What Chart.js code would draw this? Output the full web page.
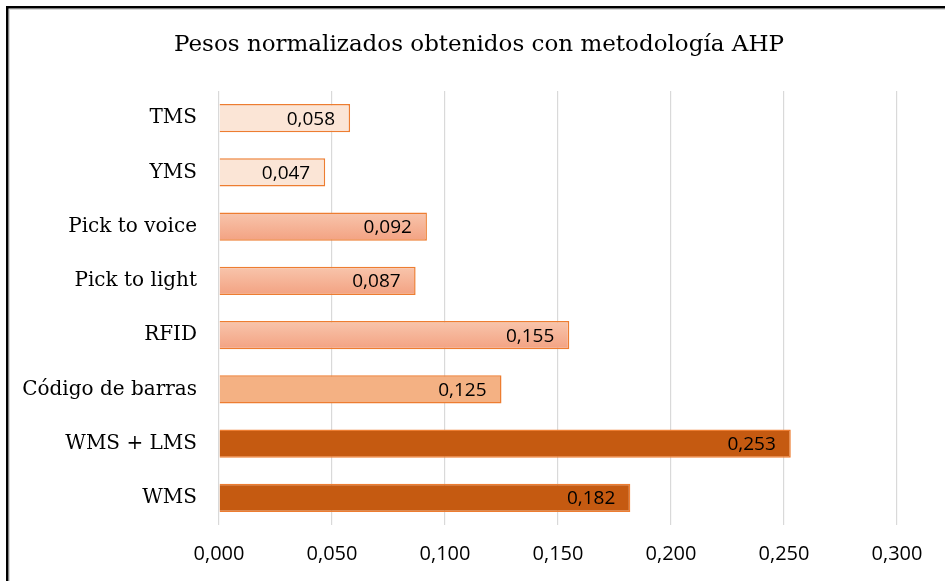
<!DOCTYPE html>
<html>
<head>
<meta charset="utf-8">
<script src="https://cdn.jsdelivr.net/npm/chart.js@4"></script>
<style>
  html, body { margin: 0; padding: 0; background: #fff; }
  #wrap { width: 945px; height: 581px; position: relative; }
</style>
</head>
<body>
<div id="wrap"><canvas id="ahpChart"></canvas></div>
<script>
// data
var chartTitle = 'Pesos normalizados obtenidos con metodología AHP';
var categories = ['TMS', 'YMS', 'Pick to voice', 'Pick to light', 'RFID', 'Código de barras', 'WMS + LMS', 'WMS'];
var weights = [0.058, 0.047, 0.092, 0.087, 0.155, 0.125, 0.253, 0.182];
var barKinds = ['pale', 'pale', 'grad', 'grad', 'grad', 'mid', 'dark', 'dark'];
var tickValues = [0, 0.05, 0.1, 0.15, 0.2, 0.25, 0.3];

function fmt(v) {
  return v.toFixed(3).replace('.', ',');
}

function barFill(ctx) {
  var kind = barKinds[ctx.dataIndex];
  if (kind === 'pale') return '#FBE5D6';
  if (kind === 'mid') return '#F4B183';
  if (kind === 'dark') return '#C55A11';
  // gradient bars
  var chart = ctx.chart;
  var yScale = chart.scales && chart.scales.y;
  if (!yScale || !chart.chartArea) return '#F6B292';
  var cy = yScale.getPixelForValue(ctx.dataIndex);
  var g = chart.ctx.createLinearGradient(0, cy - 14, 0, cy + 14);
  g.addColorStop(0, '#F8C5AC');
  g.addColorStop(1, '#F3A282');
  return g;
}

// frame around the whole picture + title
var framePlugin = {
  id: 'frame',
  afterDraw: function(chart) {
    var c = chart.ctx;
    c.save();
    c.strokeStyle = '#D9D9D9';
    c.lineWidth = 1;
    c.strokeRect(9.5, 9.5, 1000, 1000);
    c.strokeStyle = '#000';
    c.lineWidth = 2.5;
    c.strokeRect(7.25, 7.25, 1000, 1000);

    c.fillStyle = '#000';
    c.font = '23px "DejaVu Serif"';
    c.textAlign = 'center';
    c.textBaseline = 'middle';
    c.fillText(chartTitle, 479, 45);
    c.restore();
  }
};

// value labels at the inner end of each bar
var valueLabels = {
  id: 'valueLabels',
  afterDatasetsDraw: function(chart) {
    var c = chart.ctx;
    var meta = chart.getDatasetMeta(0);
    c.save();
    c.font = '19px "Open Sans"';
    c.fillStyle = '#000';
    c.textAlign = 'right';
    c.textBaseline = 'middle';
    meta.data.forEach(function(bar, i) {
      c.fillText(fmt(weights[i]), bar.x - 15, bar.y + 1);
    });
    c.restore();
  }
};

var ctx = document.getElementById('ahpChart').getContext('2d');
new Chart(ctx, {
  type: 'bar',
  data: {
    labels: categories,
    datasets: [{
      data: weights,
      backgroundColor: barFill,
      borderColor: '#ED7D31',
      borderWidth: 1.5,
      borderSkipped: 'start',
      categoryPercentage: 1,
      barPercentage: 0.52
    }]
  },
  options: {
    indexAxis: 'y',
    responsive: true,
    maintainAspectRatio: false,
    animation: false,
    layout: { padding: { left: 0, right: 48, top: 91, bottom: 0 } },
    plugins: {
      legend: { display: false },
      tooltip: { enabled: false },
      title: { display: false }
    },
    scales: {
      x: {
        min: 0,
        max: 0.3,
        afterBuildTicks: function(scale) {
          scale.ticks = tickValues.map(function(v) { return { value: v }; });
        },
        afterFit: function(scale) { scale.height = 56; },
        ticks: {
          color: '#000',
          padding: 17,
          font: { family: '"Open Sans"', size: 20 },
          callback: function(v) { return fmt(v); }
        },
        grid: { color: '#D9D9D9', lineWidth: 1.2, drawTicks: false },
        border: { display: false }
      },
      y: {
        afterFit: function(scale) { scale.width = 219; },
        ticks: {
          color: '#000',
          padding: 22,
          font: { family: '"DejaVu Serif"', size: 20 }
        },
        grid: { display: false, drawTicks: false },
        border: { display: false }
      }
    }
  },
  plugins: [valueLabels, framePlugin]
});
</script>
</body>
</html>
